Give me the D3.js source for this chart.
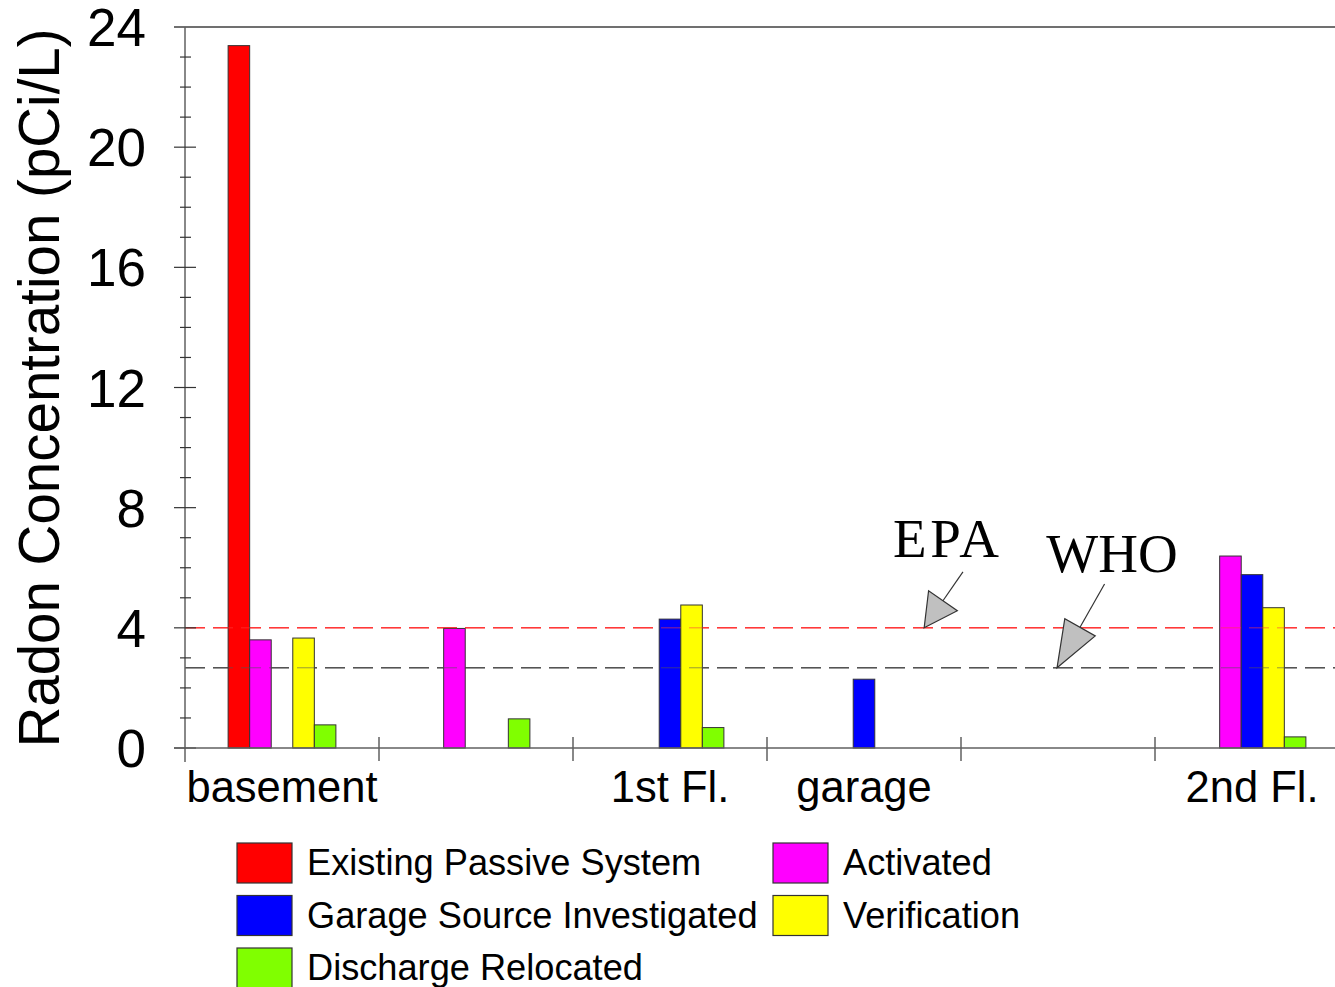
<!DOCTYPE html>
<html>
<head>
<meta charset="utf-8">
<script src="https://cdn.jsdelivr.net/npm/d3@7"></script>
<style>
  html, body { margin: 0; padding: 0; background: #fff; }
  svg { display: block; }
</style>
</head>
<body>
<div id="chart"></div>
<script>
// ---- Data ----
const groups = ["basement", "mid1", "1st Fl.", "garage", "mid2", "2nd Fl."];
const groupLabels = ["basement", "", "1st Fl.", "garage", "", "2nd Fl."];
const seriesNames = ["Existing Passive System", "Activated", "Garage Source Investigated", "Verification", "Discharge Relocated"];
const seriesColors = ["#ff0000", "#ff00ff", "#0000ff", "#ffff00", "#80ff00"];
// values per series, per group (null = not measured)
const existingPassive = [23.38, null, null, null, null, null];
const activated       = [3.60, 3.98, null, null, null, 6.39];
const garageSource    = [null, null, 4.29, 2.29, null, 5.77];
const verification    = [3.66, null, 4.76, null, null, 4.67];
const dischargeReloc  = [0.77, 0.97, 0.68, null, null, 0.37];
const seriesValues = [existingPassive, activated, garageSource, verification, dischargeReloc];
const yTicks = [0, 4, 8, 12, 16, 20, 24];
const yMinorTicks = d3.range(0, 25, 1);
const refLines = [
  { name: "EPA", value: 4.0, color: "#ff3a3a" },
  { name: "WHO", value: 2.67, color: "#555555" }
];
// annotation positions in data units (group index along x, concentration along y)
const annotations = [
  { label: "EPA", textPos: 3.65, textVal: 6.36, tailPos: 4.01, tailVal: 5.86, tipPos: 3.81, tipVal: 4.0, head: 33, spacing: 3.5 },
  { label: "WHO", textPos: 4.44, textVal: 5.86, tailPos: 4.74, tailVal: 5.46, tipPos: 4.495, tipVal: 2.67, head: 46.6, spacing: 0 }
];

// ---- Layout ----
const W = 1335, H = 987;
const plot = { left: 185, right: 1349, top: 27, bottom: 748 };
const sans = "'Liberation Sans', Arial, Helvetica, sans-serif";
const serif = "'Liberation Serif', 'Times New Roman', serif";
const axisColor = "#606060";

const svg = d3.select("#chart").append("svg").attr("width", W).attr("height", H)
  .style("font-family", sans);

const x0 = d3.scaleBand().domain(groups).range([plot.left, plot.right]).paddingInner(0).paddingOuter(0);
const x1 = d3.scaleBand().domain(seriesNames).range([0, x0.bandwidth()]).paddingInner(0).paddingOuter(2);
const xPos = d3.scaleLinear().domain([0, groups.length]).range([plot.left, plot.right]);
const y = d3.scaleLinear().domain([0, 24]).range([plot.bottom, plot.top]);

// top border
svg.append("line").attr("x1", 174).attr("x2", W).attr("y1", y(24)).attr("y2", y(24))
  .attr("stroke", "#707070").attr("stroke-width", 2);

// reference lines (behind bars)
svg.selectAll("line.ref").data(refLines).join("line").attr("class", "ref")
  .attr("x1", plot.left).attr("x2", W)
  .attr("y1", d => y(d.value)).attr("y2", d => y(d.value))
  .attr("stroke", d => d.color).attr("stroke-width", 1.5).attr("stroke-dasharray", "20,8");

// bars
const barData = [];
groups.forEach((g, gi) => {
  seriesNames.forEach((s, si) => {
    const v = seriesValues[si][gi];
    if (v != null) barData.push({ g, s, v, color: seriesColors[si] });
  });
});
svg.append("g").selectAll("rect").data(barData).join("rect")
  .attr("x", d => x0(d.g) + x1(d.s))
  .attr("width", x1.bandwidth())
  .attr("y", d => y(d.v))
  .attr("height", d => y(0) - y(d.v))
  .attr("fill", d => d.color)
  .attr("stroke", "#333").attr("stroke-width", 1);

// dashed lines also show across the bars in the reference
svg.selectAll("line.ref2").data(refLines).join("line").attr("class", "ref2")
  .attr("x1", plot.left).attr("x2", W)
  .attr("y1", d => y(d.value)).attr("y2", d => y(d.value))
  .attr("stroke", d => d.color).attr("stroke-width", 1).attr("stroke-opacity", 0.6)
  .attr("stroke-dasharray", "20,8");

// y axis
const yAxis = svg.append("g");
yAxis.append("line").attr("x1", plot.left).attr("x2", plot.left).attr("y1", y(24)).attr("y2", 762)
  .attr("stroke", axisColor).attr("stroke-width", 1.5);
yAxis.selectAll("line.minor").data(yMinorTicks.filter(t => t % 4 !== 0)).join("line")
  .attr("x1", 180).attr("x2", 191).attr("y1", d => y(d)).attr("y2", d => y(d))
  .attr("stroke", "#333").attr("stroke-width", 1.2);
yAxis.selectAll("line.major").data(yTicks.filter(t => t !== 24)).join("line")
  .attr("x1", 174).attr("x2", 196).attr("y1", d => y(d)).attr("y2", d => y(d))
  .attr("stroke", "#333").attr("stroke-width", 1.2);
yAxis.selectAll("text").data(yTicks).join("text")
  .attr("x", 146).attr("y", d => y(d)).attr("dy", "0.36em")
  .attr("text-anchor", "end").attr("font-size", 53).attr("fill", "#000")
  .text(d => d);

// x axis
const xAxis = svg.append("g");
xAxis.append("line").attr("x1", 174).attr("x2", W).attr("y1", y(0)).attr("y2", y(0))
  .attr("stroke", axisColor).attr("stroke-width", 1.5);
xAxis.selectAll("line.tick").data(groups.slice(1)).join("line")
  .attr("x1", d => x0(d)).attr("x2", d => x0(d)).attr("y1", 737).attr("y2", 761)
  .attr("stroke", axisColor).attr("stroke-width", 1.5);
xAxis.selectAll("text").data(groups).join("text")
  .attr("x", d => x0(d) + x0.bandwidth() / 2).attr("y", 802)
  .attr("text-anchor", "middle").attr("font-size", 43.5).attr("fill", "#000")
  .text((d, i) => groupLabels[i]);

// y title
svg.append("text")
  .attr("transform", `translate(59, ${(745 + 31) / 2}) rotate(-90)`)
  .attr("text-anchor", "middle").attr("font-size", 56.5).attr("fill", "#000")
  .text("Radon Concentration (pCi/L)");

// annotations
const ann = svg.append("g");
annotations.forEach(a => {
  const tip = [xPos(a.tipPos), y(a.tipVal)];
  const tail = [xPos(a.tailPos), y(a.tailVal)];
  const dx = tip[0] - tail[0], dy = tip[1] - tail[1];
  const len = Math.hypot(dx, dy);
  const ux = dx / len, uy = dy / len;
  const bc = [tip[0] - a.head * ux, tip[1] - a.head * uy];
  const hw = 17.5;
  const p1 = [bc[0] + hw * uy, bc[1] - hw * ux];
  const p2 = [bc[0] - hw * uy, bc[1] + hw * ux];
  ann.append("line").attr("x1", tail[0]).attr("y1", tail[1]).attr("x2", bc[0]).attr("y2", bc[1])
    .attr("stroke", "#333").attr("stroke-width", 1.2);
  ann.append("path").attr("d", d3.line()([tip, p1, p2]) + "Z")
    .attr("fill", "#c0c0c0").attr("stroke", "#333").attr("stroke-width", 1.2);
  ann.append("text").attr("x", xPos(a.textPos)).attr("y", y(a.textVal))
    .attr("font-family", serif).attr("font-size", 55).attr("fill", "#000")
    .attr("letter-spacing", a.spacing)
    .text(a.label);
});

// legend
const legendItems = [
  { name: seriesNames[0], color: seriesColors[0], col: 0, row: 0 },
  { name: seriesNames[1], color: seriesColors[1], col: 1, row: 0 },
  { name: seriesNames[2], color: seriesColors[2], col: 0, row: 1 },
  { name: seriesNames[3], color: seriesColors[3], col: 1, row: 1 },
  { name: seriesNames[4], color: seriesColors[4], col: 0, row: 2 }
];
const legCols = [237, 773];
const leg = svg.append("g").selectAll("g").data(legendItems).join("g")
  .attr("transform", d => `translate(${legCols[d.col]}, ${843 + d.row * 52.5})`);
leg.append("rect").attr("width", 55).attr("height", 40)
  .attr("fill", d => d.color).attr("stroke", "#333").attr("stroke-width", 1.2);
leg.append("text").attr("x", 70).attr("y", 32).attr("font-size", 36.2).attr("fill", "#000")
  .text(d => d.name);
</script>
</body>
</html>
